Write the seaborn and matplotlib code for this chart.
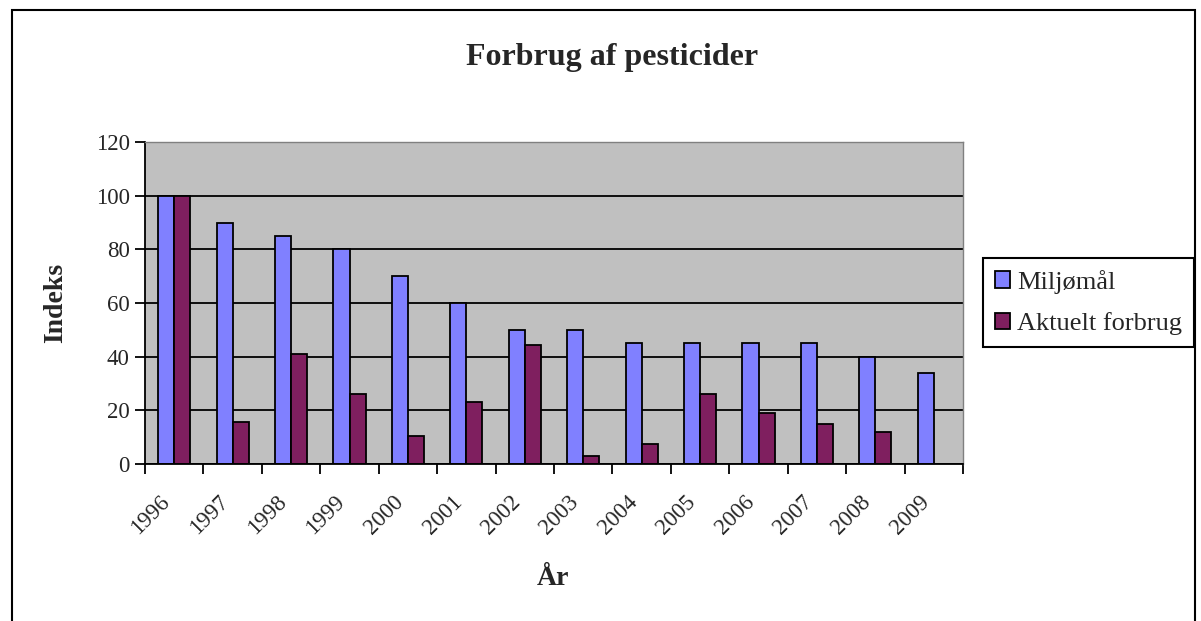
import numpy as np
import pandas as pd
import matplotlib.pyplot as plt
import matplotlib.patches as patches
import matplotlib.transforms as mtransforms
import seaborn as sns

# Data
years = ['1996', '1997', '1998', '1999', '2000', '2001', '2002',
         '2003', '2004', '2005', '2006', '2007', '2008', '2009']
miljomaal = [100, 90, 85, 80, 70, 60, 50, 50, 45, 45, 45, 45, 40, 34]
aktuelt = [100, 15.5, 41, 26, 10.5, 23, 44.5, 3, 7.5, 26, 19, 15, 12, np.nan]
series_names = ['Miljømål', 'Aktuelt forbrug']
colors = ['#8080FF', '#7F1F5F']

df = pd.DataFrame({'År': years * 2,
                   'Indeks': miljomaal + aktuelt,
                   'Serie': [series_names[0]] * len(years) + [series_names[1]] * len(years)})

sns.set_style('white')
plt.rcParams['font.family'] = ['Liberation Serif', 'DejaVu Serif']

fig = plt.figure(figsize=(12.01, 6.21), dpi=100)
ax = fig.add_axes([145 / 1201, 1 - 464 / 621, 818 / 1201, 322 / 621])
ax.set_facecolor('#C0C0C0')

sns.barplot(data=df, x='År', y='Indeks', hue='Serie', palette=colors,
            saturation=1, width=0.55, edgecolor='black', linewidth=1.3,
            ax=ax, legend=False)

ax.set_ylim(0, 120)
ax.set_xlim(-0.5, len(years) - 0.5)
ax.set_yticks(range(0, 121, 20))
ax.yaxis.grid(True, color='black', linewidth=1.3)
ax.set_axisbelow(True)

# ticks between categories, labels at centers
ax.set_xticks(np.arange(-0.5, len(years), 1.0), minor=True)
ax.tick_params(axis='x', which='minor', length=7, width=1.3, color='black', direction='out', bottom=True)
ax.tick_params(axis='x', which='major', length=0, labelsize=16.5, pad=20)
ax.tick_params(axis='y', length=7, width=1.3, color='black', direction='out', left=True,
               labelsize=16.5, pad=4)
shift = mtransforms.ScaledTranslation(-15 / 100, 0, fig.dpi_scale_trans)
for lbl in ax.get_xticklabels():
    lbl.set_rotation(45)
    lbl.set_ha('right')
    lbl.set_rotation_mode('anchor')
    lbl.set_transform(lbl.get_transform() + shift)

for s in ['left', 'bottom']:
    ax.spines[s].set_color('black')
    ax.spines[s].set_linewidth(1.3)
for s in ['top', 'right']:
    ax.spines[s].set_color('#808080')
    ax.spines[s].set_linewidth(1.0)

ax.set_xlabel('År', fontsize=20, fontweight='bold')
ax.xaxis.set_label_coords(553 / 1201, 1 - 566 / 621, transform=fig.transFigure)
ax.set_ylabel('Indeks', fontsize=20, fontweight='bold', labelpad=20)

fig.text(612 / 1201, 1 - 57 / 621, 'Forbrug af pesticider', ha='center', va='center',
         fontsize=23, fontweight='bold')

handles = [patches.Patch(facecolor=c, edgecolor='black', linewidth=1.3) for c in colors]
fig.legend(handles, series_names, loc='upper left',
           bbox_to_anchor=(983 / 1201, 1 - 258 / 621), fontsize=19,
           frameon=True, fancybox=False, edgecolor='black', framealpha=1,
           handlelength=0.58, handleheight=0.58, handletextpad=0.27,
           borderpad=0.45, labelspacing=0.7, borderaxespad=0)
fig.legends[0].get_frame().set_linewidth(1.5)

# outer chart border
fig.patches.append(patches.Rectangle((12 / 1201, -0.05), 1183 / 1201, 1.05 - 10 / 621,
                                     transform=fig.transFigure, fill=False,
                                     edgecolor='black', linewidth=1.5))

fig.savefig('out.png', dpi=100)
